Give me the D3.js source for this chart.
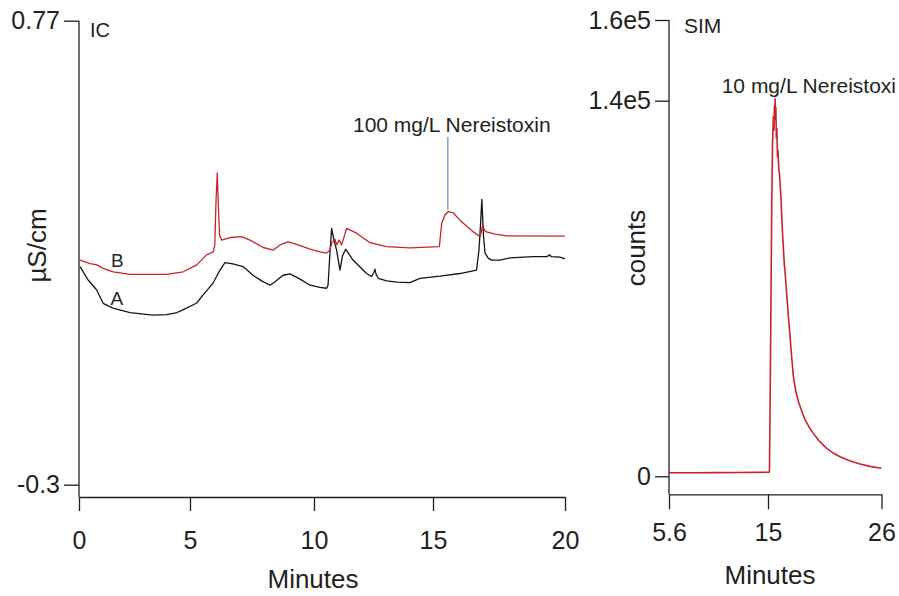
<!DOCTYPE html>
<html>
<head>
<meta charset="utf-8">
<script src="https://cdn.jsdelivr.net/npm/d3@7"></script>
<style>
  html, body { margin: 0; padding: 0; background: #fff; }
  svg { display: block; font-family: "Liberation Sans", Arial, Helvetica, sans-serif; }
</style>
</head>
<body>
<svg id="chart" width="899" height="596"></svg>
<script>
// ---- IC conductivity panel (minutes, µS/cm) ----
const icTicksX = [0, 5, 10, 15, 20];
const icTicksY = [-0.3, 0.77];
const icTickLabelsY = ["-0.3", "0.77"];

// Trace A: blank
const traceA = [
  [0.05, 0.203], [0.41, 0.172], [0.80, 0.149], [1.09, 0.118], [1.53, 0.107],
  [2.30, 0.097], [3.33, 0.091], [3.95, 0.092], [4.37, 0.096], [4.68, 0.103],
  [5.27, 0.119], [5.52, 0.137], [5.93, 0.165], [6.21, 0.195], [6.41, 0.212],
  [6.73, 0.209], [7.14, 0.203], [7.54, 0.183], [7.89, 0.170], [8.23, 0.160],
  [8.43, 0.168], [8.75, 0.183], [9.03, 0.186], [9.44, 0.174], [9.84, 0.160],
  [10.25, 0.155], [10.53, 0.153], [10.59, 0.160], [10.66, 0.225], [10.74, 0.291],
  [10.84, 0.264], [10.95, 0.241], [11.09, 0.195], [11.20, 0.228], [11.33, 0.243],
  [11.64, 0.218], [12.21, 0.187], [12.42, 0.180], [12.52, 0.190], [12.56, 0.197],
  [12.61, 0.185], [12.70, 0.176], [13.05, 0.170], [13.50, 0.167], [14.03, 0.166],
  [14.45, 0.176], [15.27, 0.181], [16.02, 0.187], [16.65, 0.195], [16.74, 0.240],
  [16.80, 0.300], [16.85, 0.358], [16.91, 0.276], [16.97, 0.234], [17.10, 0.222],
  [17.22, 0.218], [17.54, 0.218], [17.92, 0.223], [18.79, 0.226], [19.31, 0.226],
  [19.43, 0.230], [19.47, 0.226], [19.81, 0.225], [20.00, 0.221]
];

// Trace B: 100 mg/L nereistoxin standard
const traceB = [
  [0.05, 0.218], [0.50, 0.210], [0.81, 0.207], [1.09, 0.199], [1.54, 0.191],
  [2.30, 0.185], [3.95, 0.185], [4.70, 0.191], [5.27, 0.207], [5.67, 0.230],
  [5.94, 0.237], [6.00, 0.253], [6.05, 0.356], [6.10, 0.419], [6.15, 0.333],
  [6.19, 0.276], [6.28, 0.264], [6.61, 0.270], [7.08, 0.272], [7.42, 0.264],
  [7.95, 0.247], [8.36, 0.241], [8.63, 0.253], [8.96, 0.260], [9.30, 0.254],
  [9.84, 0.243], [10.25, 0.237], [10.53, 0.234], [10.67, 0.241], [10.75, 0.259],
  [10.82, 0.262], [10.88, 0.266], [10.95, 0.253], [11.06, 0.264], [11.16, 0.253],
  [11.37, 0.291], [11.79, 0.280], [12.35, 0.258], [13.05, 0.249], [14.03, 0.246],
  [15.24, 0.249], [15.33, 0.303], [15.45, 0.322], [15.58, 0.330], [15.76, 0.327],
  [16.02, 0.310], [16.53, 0.283], [16.78, 0.272], [16.84, 0.285], [16.88, 0.299],
  [16.95, 0.287], [17.03, 0.283], [17.35, 0.278], [17.79, 0.274], [20.00, 0.273]
];

const icPeakLabel = "100 mg/L Nereistoxin";
const icPeakTime = 15.56;
const icPeakValue = 0.334;

// ---- SIM mass-spec panel (minutes, counts) ----
const simTicksX = [5.6, 15, 26];
const simTickLabelsX = ["5.6", "15", "26"];
const simTicksY = [0, 1.4e5, 1.6e5];
const simTickLabelsY = ["0", "1.4e5", "1.6e5"];

const simTrace = [
  [5.6, 1300], [8.0, 1330], [10.0, 1380], [12.0, 1420], [14.0, 1480],
  [15.10, 1550], [15.14, 1700], [15.20, 25000], [15.28, 62000], [15.36, 100000],
  [15.44, 124000], [15.52, 134000], [15.58, 129000], [15.62, 138000], [15.66, 133000],
  [15.69, 140500], [15.72, 134000], [15.76, 137500], [15.81, 126000], [15.86, 129500],
  [15.92, 119000], [15.97, 121500], [16.05, 114000], [16.12, 112500], [16.19, 108000],
  [16.26, 103500], [16.33, 97000], [16.41, 90500], [16.50, 84500], [16.58, 79000],
  [16.66, 76000], [16.75, 71000], [16.88, 64500], [17.00, 58500], [17.12, 53000],
  [17.25, 46500], [17.45, 37500], [17.70, 31500], [18.00, 27200], [18.30, 24000],
  [18.60, 21000], [19.00, 18200], [19.39, 16000], [20.00, 13000], [20.69, 10400],
  [21.30, 8700], [21.98, 7300], [22.90, 5800], [23.92, 4600], [25.00, 3600],
  [26.00, 3000]
];

const simPeakLabel = "10 mg/L Nereistoxi";

// ---- styling ----
const ink = "#231f20";
const red = "#c8232c";
const black = "#141414";
const pointer = "#8aa4d6";

const svg = d3.select("#chart");

// ---- IC panel layout ----
const ic = { left: 79, right: 565, top: 20.7, bottom: 484.7, axisY: 497 };
const xIC = d3.scaleLinear()
  .domain(icTicksX)
  .range([ic.left, 190, 314, 433, ic.right]);
const yIC = d3.scaleLinear()
  .domain([-0.3, 0.77])
  .range([ic.bottom, ic.top]);

const gIC = svg.append("g");

// x axis
const xAxisIC = d3.axisBottom(xIC)
  .tickValues(icTicksX)
  .tickFormat(d3.format("d"))
  .tickSize(14)
  .tickPadding(20)
  .tickSizeOuter(0);
gIC.append("g")
  .attr("transform", `translate(0,${ic.axisY})`)
  .call(xAxisIC);

// y axis
const yAxisIC = d3.axisLeft(yIC)
  .tickValues(icTicksY)
  .tickFormat((d, i) => icTickLabelsY[i])
  .tickSize(15)
  .tickPadding(4);
const gyIC = gIC.append("g")
  .attr("transform", `translate(${ic.left},0)`)
  .call(yAxisIC);
gyIC.select(".domain").remove();
gIC.append("line")
  .attr("x1", ic.left).attr("x2", ic.left)
  .attr("y1", yIC(0.77)).attr("y2", ic.axisY)
  .attr("stroke", ink).attr("stroke-width", 1.3);

const lineIC = d3.line().x(d => xIC(d[0])).y(d => yIC(d[1]));

gIC.append("path").datum(traceA)
  .attr("d", lineIC).attr("fill", "none")
  .attr("stroke", black).attr("stroke-width", 1.3)
  .attr("stroke-linejoin", "round");
gIC.append("path").datum(traceB)
  .attr("d", lineIC).attr("fill", "none")
  .attr("stroke", red).attr("stroke-width", 1.3)
  .attr("stroke-linejoin", "round");

// trace labels
gIC.append("text").attr("x", 111).attr("y", 266.5)
  .attr("font-size", 19).attr("fill", ink).text("B");
gIC.append("text").attr("x", 110.5).attr("y", 305)
  .attr("font-size", 19).attr("fill", ink).text("A");

// panel tag
gIC.append("text").attr("x", 90).attr("y", 36.5)
  .attr("font-size", 20).attr("fill", ink).text("IC");

// peak pointer
gIC.append("line")
  .attr("x1", xIC(icPeakTime)).attr("x2", xIC(icPeakTime))
  .attr("y1", 137).attr("y2", yIC(icPeakValue))
  .attr("stroke", pointer).attr("stroke-width", 1.6);
gIC.append("text")
  .attr("x", xIC(icPeakTime) + 4).attr("y", 132.3)
  .attr("text-anchor", "middle")
  .attr("font-size", 21).attr("fill", ink).text(icPeakLabel);

// axis titles
gIC.append("text")
  .attr("x", 313).attr("y", 588)
  .attr("text-anchor", "middle")
  .attr("font-size", 26).attr("fill", ink).text("Minutes");
gIC.append("text")
  .attr("transform", "translate(46,245.5) rotate(-90)")
  .attr("text-anchor", "middle")
  .attr("font-size", 26).attr("fill", ink).text("µS/cm");

// ---- SIM panel layout ----
const sim = { left: 669, right: 881.5, axisY: 494.3 };
const xSIM = d3.scaleLinear()
  .domain(simTicksX)
  .range([sim.left, 768, sim.right]);
const ySIM = d3.scaleLinear()
  .domain(simTicksY)
  .range([476.3, 100.7, 20]);

const gSIM = svg.append("g");

const xAxisSIM = d3.axisBottom(xSIM)
  .tickValues(simTicksX)
  .tickFormat((d, i) => simTickLabelsX[i])
  .tickSize(15)
  .tickPadding(14)
  .tickSizeOuter(0);
gSIM.append("g")
  .attr("transform", `translate(0,${sim.axisY})`)
  .call(xAxisSIM);

const yAxisSIM = d3.axisLeft(ySIM)
  .tickValues(simTicksY)
  .tickFormat((d, i) => simTickLabelsY[i])
  .tickSize(14)
  .tickPadding(4);
const gySIM = gSIM.append("g")
  .attr("transform", `translate(${sim.left},0)`)
  .call(yAxisSIM);
gySIM.select(".domain").remove();
gSIM.append("line")
  .attr("x1", sim.left).attr("x2", sim.left)
  .attr("y1", ySIM(1.6e5)).attr("y2", sim.axisY)
  .attr("stroke", ink).attr("stroke-width", 1.3);

const lineSIM = d3.line().x(d => xSIM(d[0])).y(d => ySIM(d[1]));
gSIM.append("path").datum(simTrace)
  .attr("d", lineSIM).attr("fill", "none")
  .attr("stroke", red).attr("stroke-width", 1.6)
  .attr("stroke-linejoin", "round");

gSIM.append("text").attr("x", 684).attr("y", 33.3)
  .attr("font-size", 21).attr("fill", ink).text("SIM");
gSIM.append("text").attr("x", 721.7).attr("y", 92.7)
  .attr("font-size", 21).attr("fill", ink).text(simPeakLabel);

gSIM.append("text")
  .attr("x", 770).attr("y", 584)
  .attr("text-anchor", "middle")
  .attr("font-size", 26).attr("fill", ink).text("Minutes");
gSIM.append("text")
  .attr("transform", "translate(645,248) rotate(-90)")
  .attr("text-anchor", "middle")
  .attr("font-size", 26).attr("fill", ink).text("counts");

// shared axis styling
svg.selectAll(".domain, .tick line")
  .attr("stroke", ink).attr("stroke-width", 1.3);
svg.selectAll(".tick text")
  .attr("fill", ink)
  .attr("font-size", 25)
  .attr("font-family", "\"Liberation Sans\", Arial, Helvetica, sans-serif");
</script>
</body>
</html>
